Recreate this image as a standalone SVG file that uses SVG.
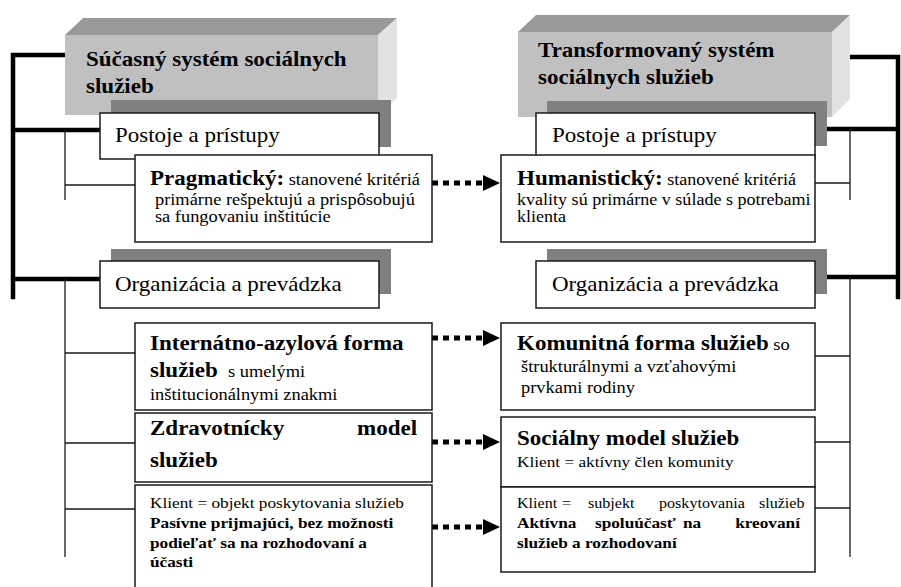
<svg xmlns="http://www.w3.org/2000/svg" width="901" height="587" viewBox="0 0 901 587">
  <style>
    text { font-family: "Liberation Serif", "Times New Roman", serif; fill: #000; }
    .b20 { font-size: 20px; font-weight: bold; }
    .r20 { font-size: 20px; }
    .r16 { font-size: 16px; }
    .r157 { font-size: 15.7px; }
    .r15 { font-size: 15px; }
    .r14 { font-size: 14px; }
    .b15 { font-size: 15px; font-weight: bold; }
    .box { fill: #fff; stroke: #1a1a1a; stroke-width: 1.5; }
    .shadow { fill: #808080; }
    .front { fill: #c0c0c0; }
    .topface { fill: #999999; }
    .side { fill: #e2e2e2; }
    .thick { stroke: #000; stroke-width: 4.5; fill: none; stroke-linecap: square; }
    .thin { stroke: #1a1a1a; stroke-width: 1.3; fill: none; }
    .dots { stroke: #000; stroke-width: 5; stroke-dasharray: 6 5; fill: none; }
  </style>
  <defs>
    <marker id="head" markerUnits="userSpaceOnUse" markerWidth="18" markerHeight="16" refX="0" refY="8" orient="auto">
      <polygon points="0,0 17,8 0,16" fill="#000"/>
    </marker>
  </defs>

  <!-- connectors: bracket lines and dotted arrows -->
  <g id="connectors">
    <path class="thick" d="M65,55 H13 V297 M13,130 H100 M13,279 H100"/>
    <path class="thick" d="M850,57 H898 V297 M898,129 H815 M898,277 H815"/>
    <path class="thin" d="M65,130 V200 M65,185 H135 M65,279 V557 M65,353 H135 M65,443 H135 M65,509 H135"/>
    <path class="thin" d="M850,129 V200 M850,183 H815 M850,277 V557 M850,356 H815 M850,442 H815 M850,508 H815"/>
    <line class="dots" x1="432" y1="183" x2="483" y2="183" marker-end="url(#head)"/>
    <line class="dots" x1="432" y1="338" x2="483" y2="338" marker-end="url(#head)"/>
    <line class="dots" x1="432" y1="442" x2="483" y2="442" marker-end="url(#head)"/>
    <line class="dots" x1="432" y1="527" x2="483" y2="527" marker-end="url(#head)"/>
  </g>

  <!-- left column -->
  <g id="header-left">
    <polygon class="topface" points="65,35 83,18 397,18 378,35"/>
    <polygon class="side" points="378,35 397,18 397,98 378,115"/>
    <rect class="front" x="65" y="35" width="313" height="80"/>
    <g transform="translate(86 0) scale(1.15 1)">
      <text class="b20" x="0" y="66">Súčasný systém sociálnych</text>
      <text class="b20" x="0" y="93">služieb</text>
    </g>
  </g>

  <g id="postoje-left">
    <rect class="shadow" x="111" y="100" width="280" height="47"/>
    <rect class="box" x="100" y="113" width="279" height="46"/>
    <g transform="translate(115 0) scale(1.15 1)">
      <text class="r20" x="0" y="142">Postoje a prístupy</text>
    </g>
  </g>

  <g id="pragmaticky">
    <rect class="box" x="135" y="155" width="297" height="87"/>
    <g transform="translate(150 0) scale(1.15 1)">
      <text x="0" y="185"><tspan class="b20">Pragmatický:</tspan><tspan class="r16"> stanovené kritériá</tspan></text>
      <text class="r16" x="4.3" y="205">primárne rešpektujú a prispôsobujú</text>
      <text class="r16" x="4.3" y="222">sa fungovaniu inštitúcie</text>
    </g>
  </g>

  <g id="organizacia-left">
    <rect class="shadow" x="111" y="249" width="280" height="45"/>
    <rect class="box" x="100" y="261" width="279" height="47"/>
    <g transform="translate(115 0) scale(1.15 1)">
      <text class="r20" x="0" y="291">Organizácia a prevádzka</text>
    </g>
  </g>

  <g id="internatno">
    <rect class="box" x="135" y="323" width="297" height="87"/>
    <g transform="translate(150 0) scale(1.15 1)">
      <text class="b20" x="0" y="350">Internátno-azylová forma</text>
      <text x="0" y="377"><tspan class="b20">služieb</tspan><tspan class="r16" x="67.8">s umelými</tspan></text>
      <text class="r16" x="0" y="400">inštitucionálnymi znakmi</text>
    </g>
  </g>

  <g id="zdravotnicky">
    <rect class="box" x="135" y="413" width="297" height="69"/>
    <g transform="translate(150 0) scale(1.15 1)">
      <text class="b20" x="0" y="435">Zdravotnícky</text>
      <text class="b20" x="232.2" y="435" text-anchor="end">model</text>
      <text class="b20" x="0" y="467">služieb</text>
    </g>
  </g>

  <g id="klient-objekt">
    <rect class="box" x="135" y="485" width="297" height="110"/>
    <g transform="translate(150 0) scale(1.15 1)">
      <text class="r15" x="0" y="508">Klient = objekt poskytovania služieb</text>
      <text class="b15" x="0" y="528">Pasívne prijmajúci, bez možnosti</text>
      <text class="b15" x="0" y="548">podieľať sa na rozhodovaní a</text>
      <text class="b15" x="0" y="567">účasti</text>
    </g>
  </g>

  <!-- right column -->
  <g id="header-right">
    <polygon class="topface" points="518,32 536,15 850,15 832,32"/>
    <polygon class="side" points="832,32 850,15 850,99 832,117"/>
    <rect class="front" x="518" y="32" width="314" height="85"/>
    <g transform="translate(538 0) scale(1.15 1)">
      <text class="b20" x="0" y="57">Transformovaný systém</text>
      <text class="b20" x="0" y="84">sociálnych služieb</text>
    </g>
  </g>

  <g id="postoje-right">
    <rect class="shadow" x="547" y="101" width="280" height="45"/>
    <rect class="box" x="536" y="113" width="279" height="46"/>
    <g transform="translate(552 0) scale(1.15 1)">
      <text class="r20" x="0" y="142">Postoje a prístupy</text>
    </g>
  </g>

  <g id="humanisticky">
    <rect class="box" x="501" y="155" width="314" height="87"/>
    <g transform="translate(517 0) scale(1.15 1)">
      <text x="0" y="185"><tspan class="b20">Humanistický:</tspan><tspan class="r157"> stanovené kritériá</tspan></text>
      <text class="r157" x="0" y="205">kvality sú primárne v súlade s potrebami</text>
      <text class="r157" x="0" y="222">klienta</text>
    </g>
  </g>

  <g id="organizacia-right">
    <rect class="shadow" x="547" y="249" width="280" height="45"/>
    <rect class="box" x="536" y="261" width="279" height="47"/>
    <g transform="translate(552 0) scale(1.15 1)">
      <text class="r20" x="0" y="291">Organizácia a prevádzka</text>
    </g>
  </g>

  <g id="komunitna">
    <rect class="box" x="501" y="323" width="314" height="87"/>
    <g transform="translate(517 0) scale(1.15 1)">
      <text x="0" y="350"><tspan class="b20">Komunitná forma služieb</tspan><tspan class="r16"> so</tspan></text>
      <text class="r16" x="3.5" y="372">štrukturálnymi a vzťahovými</text>
      <text class="r16" x="3.5" y="393">prvkami rodiny</text>
    </g>
  </g>

  <g id="socialny">
    <rect class="box" x="501" y="417" width="314" height="70"/>
    <g transform="translate(517 0) scale(1.15 1)">
      <text class="b20" x="0" y="445">Sociálny model služieb</text>
      <text class="r15" x="0" y="467">Klient = aktívny člen komunity</text>
    </g>
  </g>

  <g id="klient-subjekt">
    <rect class="box" x="501" y="487" width="314" height="85"/>
    <g transform="translate(517 0) scale(1.15 1)">
      <text class="r14" y="508"><tspan x="0">Klient</tspan><tspan x="39.1">=</tspan><tspan x="61.7">subjekt</tspan><tspan x="123.5">poskytovania</tspan><tspan x="210.4">služieb</tspan></text>
      <text class="b15" y="528"><tspan x="0">Aktívna</tspan><tspan x="67.8">spoluúčasť</tspan><tspan x="144.3">na</tspan></text>
      <text class="b15" x="246.1" y="528" text-anchor="end">kreovaní</text>
      <text class="b15" x="0" y="548">služieb a rozhodovaní</text>
    </g>
  </g>
</svg>
